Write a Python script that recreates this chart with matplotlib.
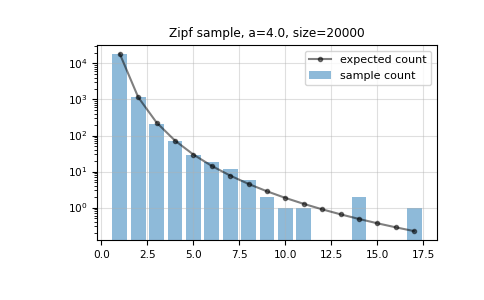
import numpy as np
import matplotlib.pyplot as plt

a = 4.0
n = 20000

# values
k = [1, 2, 3, 4, 5, 6, 7, 8, 9, 10, 11, 12, 13, 14, 15, 16, 17]
sample_count = [18495, 1150, 213, 70, 29, 18, 12, 6, 2, 1, 1, 0, 0, 2, 0, 0, 1]
expected_count = [18479, 1155, 228.1, 72.18, 29.57, 14.26, 7.70, 4.51, 2.82,
                  1.848, 1.262, 0.891, 0.647, 0.481, 0.365, 0.282, 0.221]

plt.rcParams['font.size'] = 7.6

fig = plt.figure(figsize=(4.85, 3.0), dpi=100)
ax = fig.add_axes([0.2, 0.2, 0.701, 0.65])

ax.bar(k, sample_count, alpha=0.5, label='sample count')
ax.plot(k, expected_count, 'k.-', alpha=0.5, label='expected count')
ax.semilogy()
ax.grid(alpha=0.4)
ax.legend(fontsize=8.0)
ax.set_title(f'Zipf sample, a={a}, size={n}', fontsize=8.7)

fig.savefig('out.png', dpi=100)
